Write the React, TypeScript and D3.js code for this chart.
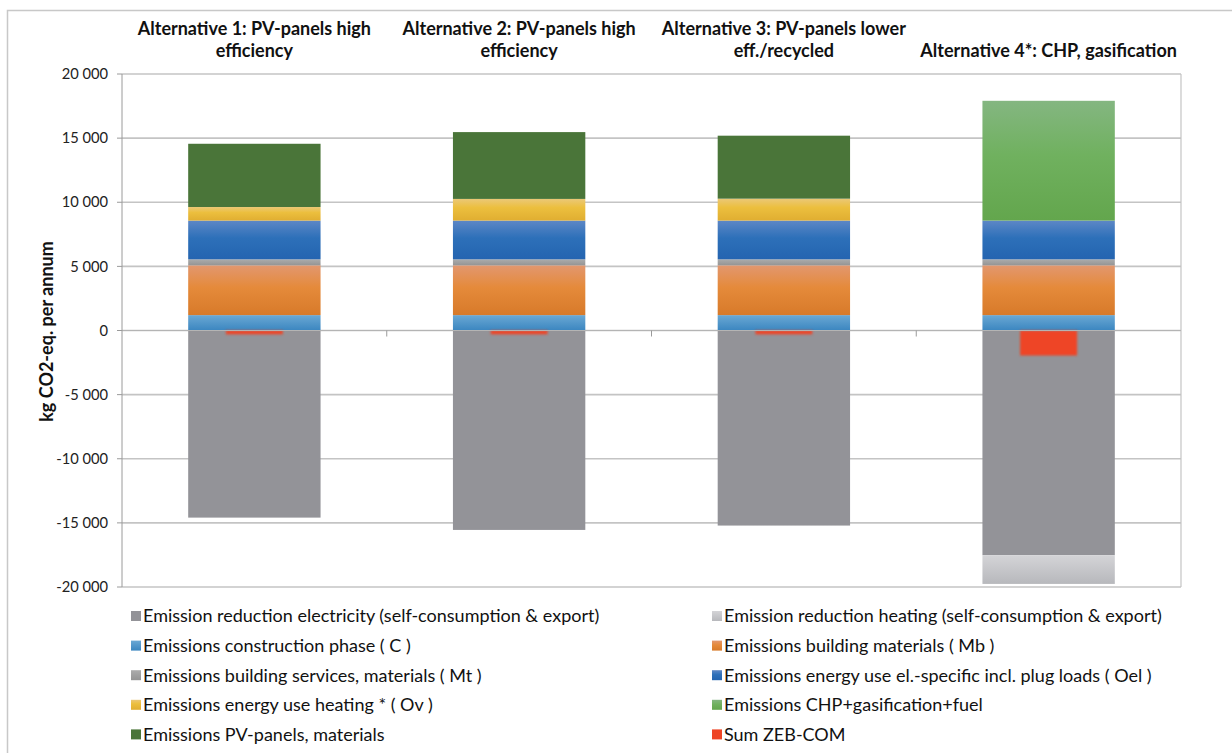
import React from "react";
import * as d3 from "d3";

// Category headings (drawn above the plot, bottom-aligned)
const categoryLines: string[][] = [
  ["Alternative 1: PV-panels high", "efficiency"],
  ["Alternative 2: PV-panels high", "efficiency"],
  ["Alternative 3: PV-panels lower", "eff./recycled"],
  ["Alternative 4*: CHP, gasification"],
];

// Series values, kg CO2-eq. per annum
const reductionElectricity = [-14590, -15550, -15210, -17520];
const reductionHeating = [0, 0, 0, -2240];
const construction = [1200, 1200, 1200, 1200];
const buildingMaterials = [3880, 3880, 3880, 3880];
const buildingServices = [470, 470, 470, 470];
const energyEl = [3020, 3020, 3020, 3020];
const energyHeating = [1060, 1690, 1710, 0];
const chpGasification = [0, 0, 0, 9340];
const pvPanels = [4930, 5210, 4910, 0];
const sumZebCom = [-300, -300, -300, -1950];

const yTicks = [20000, 15000, 10000, 5000, 0, -5000, -10000, -15000, -20000];

type Series = {
  key: string;
  name: string;
  values: number[];
  stops: [number, string][];
};

// Stacking order (positive upward from zero, negative downward from zero)
const positiveSeries: Series[] = [
  { key: "c", name: "Emissions construction phase ( C )", values: construction, stops: [[0, "#6aa8d4"], [1, "#3b86c0"]] },
  { key: "mb", name: "Emissions building materials ( Mb )", values: buildingMaterials, stops: [[0, "#e2976f"], [0.45, "#e58a3a"], [1, "#d77a2a"]] },
  { key: "mt", name: "Emissions building services, materials ( Mt )", values: buildingServices, stops: [[0, "#acacac"], [1, "#949494"]] },
  { key: "oel", name: "Emissions energy use el.-specific incl. plug loads ( Oel )", values: energyEl, stops: [[0, "#5d87c6"], [0.45, "#2d70b9"], [1, "#2464b0"]] },
  { key: "ov", name: "Emissions energy use heating * ( Ov )", values: energyHeating, stops: [[0, "#ebc877"], [0.4, "#ecbf3e"], [1, "#e0ae31"]] },
  { key: "chp", name: "Emissions CHP+gasification+fuel", values: chpGasification, stops: [[0, "#84b681"], [0.45, "#70b15f"], [1, "#63a64d"]] },
  { key: "pv", name: "Emissions PV-panels, materials", values: pvPanels, stops: [[0, "#4a7539"], [1, "#4a7539"]] },
];
const negativeSeries: Series[] = [
  { key: "re", name: "Emission reduction electricity (self-consumption & export)", values: reductionElectricity, stops: [[0, "#939398"], [1, "#939398"]] },
  { key: "rh", name: "Emission reduction heating (self-consumption & export)", values: reductionHeating, stops: [[0, "#d4d4d7"], [1, "#b7b8bc"]] },
];
const sumSeries: Series = { key: "sum", name: "Sum ZEB-COM", values: sumZebCom, stops: [[0, "#ee4425"], [1, "#ee4425"]] };

const bySeriesKey = (k: string) =>
  [...positiveSeries, ...negativeSeries, sumSeries].find((s) => s.key === k)!;

// Legend, read row by row across two columns
const legendOrder = ["re", "rh", "c", "mb", "mt", "oel", "ov", "chp", "pv", "sum"];

const W = 1232;
const H = 753;
const plot = { left: 122, right: 1181, top: 74, bottom: 587 };
const FONT = "Lato, 'Open Sans', sans-serif";

const fmt = (v: number) => {
  const s = d3.format(",")(Math.abs(v)).replace(/,/g, " ");
  return v < 0 ? "-" + s : s;
};

export default function App() {
  const x = d3
    .scaleBand<number>()
    .domain(categoryLines.map((_, i) => i))
    .range([plot.left, plot.right])
    .paddingInner(0)
    .paddingOuter(0);
  const y = d3.scaleLinear().domain([-20000, 20000]).range([plot.bottom, plot.top]);
  const bw = x.bandwidth() * 0.5;
  const sw = x.bandwidth() * 0.215;

  const rects: JSX.Element[] = [];
  categoryLines.forEach((_, i) => {
    const cx = (x(i) as number) + x.bandwidth() / 2;
    let acc = 0;
    positiveSeries.forEach((s) => {
      const v = s.values[i];
      if (!v) return;
      const y0 = y(acc);
      const y1 = y(acc + v);
      rects.push(
        <rect key={s.key + i} x={cx - bw / 2} y={y1} width={bw} height={y0 - y1} fill={`url(#g-${s.key})`} />
      );
      acc += v;
    });
    let neg = 0;
    negativeSeries.forEach((s) => {
      const v = s.values[i];
      if (!v) return;
      const y0 = y(neg);
      const y1 = y(neg + v);
      rects.push(
        <rect key={s.key + i} x={cx - bw / 2} y={y0} width={bw} height={y1 - y0} fill={`url(#g-${s.key})`} />
      );
      neg += v;
    });
  });

  const sumRects = categoryLines.map((_, i) => {
    const cx = (x(i) as number) + x.bandwidth() / 2;
    const v = sumSeries.values[i];
    const y0 = y(Math.max(0, v));
    const y1 = y(Math.min(0, v));
    return (
      <rect key={"sum" + i} x={cx - sw / 2} y={y0} width={sw} height={y1 - y0} fill="#ee4425" filter="url(#soft)" />
    );
  });

  return (
    <svg
      width={W}
      height={H}
      style={{ position: "absolute", left: 0, top: 0, background: "#fff" }}
      fontFamily={FONT}
    >
      <defs>
        {[...positiveSeries, ...negativeSeries, sumSeries].map((s) => (
          <linearGradient key={s.key} id={`g-${s.key}`} x1="0" y1="0" x2="0" y2="1">
            {s.stops.map(([o, c], j) => (
              <stop key={j} offset={o} stopColor={c} />
            ))}
          </linearGradient>
        ))}
        <filter id="soft" x="-20%" y="-50%" width="140%" height="200%">
          <feGaussianBlur stdDeviation="0.9" />
        </filter>
      </defs>

      {/* chart frame */}
      <rect x={7.5} y={10.5} width={1240} height={760} fill="none" stroke="#c8c8c8" strokeWidth={1.5} />

      {/* gridlines */}
      {yTicks.map((t) => (
        <line key={t} x1={plot.left} x2={plot.right} y1={y(t)} y2={y(t)} stroke="#c4c4c4" strokeWidth={1.6} />
      ))}
      <line x1={plot.right} x2={plot.right} y1={plot.top} y2={plot.bottom} stroke="#c4c4c4" strokeWidth={1.2} />

      {/* bars */}
      {rects}
      {sumRects}

      {/* zero line and category ticks */}
      <line x1={plot.left} x2={plot.right} y1={y(0)} y2={y(0)} stroke="#b4b4b4" strokeWidth={1.2} />
      {d3.range(1, categoryLines.length).map((i) => (
        <line key={i} x1={x(i) as number} x2={x(i) as number} y1={y(0)} y2={y(0) + 6} stroke="#9a9a9a" strokeWidth={1} />
      ))}

      {/* y axis */}
      <line x1={plot.left} x2={plot.left} y1={plot.top} y2={plot.bottom} stroke="#9a9a9a" strokeWidth={1} />
      {yTicks.map((t) => (
        <g key={t} transform={`translate(0,${y(t)})`}>
          <line x1={plot.left - 5} x2={plot.left} stroke="#9a9a9a" />
          <text x={108} dy="0.35em" textAnchor="end" fontSize={14.7} fill="#222">
            {fmt(t)}
          </text>
        </g>
      ))}
      <text
        transform={`translate(53,${(plot.top + plot.bottom) / 2 + 1}) rotate(-90)`}
        textAnchor="middle"
        fontSize={18}
        fontWeight="bold"
        fill="#111"
      >
        kg CO2-eq. per annum
      </text>

      {/* category headings */}
      {categoryLines.map((lines, i) => {
        const cx = (x(i) as number) + x.bandwidth() / 2;
        return (
          <text key={i} textAnchor="middle" fontSize={18} fontWeight="bold" fill="#111">
            {lines.map((l, j) => (
              <tspan key={j} x={cx} y={57 - (lines.length - 1 - j) * 22}>
                {l}
              </tspan>
            ))}
          </text>
        );
      })}

      {/* legend */}
      {legendOrder.map((k, idx) => {
        const s = bySeriesKey(k);
        const col = idx % 2;
        const row = Math.floor(idx / 2);
        const lx = col === 0 ? 131 : 712;
        const ly = 616 + row * 29.6;
        return (
          <g key={k} transform={`translate(${lx},${ly})`}>
            <rect x={0} y={-5} width={10} height={10} fill={`url(#g-${s.key})`} />
            <text x={12} dy="0.35em" fontSize={18} fill="#111">
              {s.name}
            </text>
          </g>
        );
      })}
    </svg>
  );
}
